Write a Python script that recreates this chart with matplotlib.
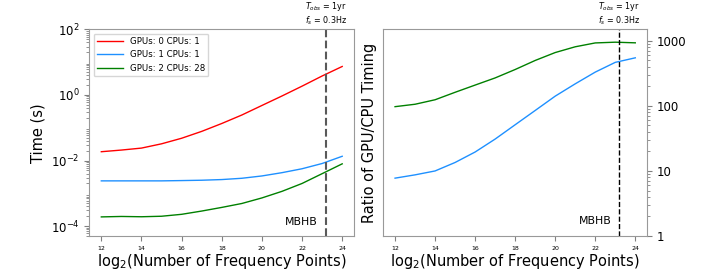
import numpy as np
import matplotlib
matplotlib.use('Agg')
import matplotlib.pyplot as plt
import matplotlib.transforms as mtransforms
from matplotlib.ticker import FixedLocator, FixedFormatter

# log2 of the number of frequency points
n_log2 = [12, 13, 14, 15, 16, 17, 18, 19, 20, 21, 22, 23, 24]

# timings in seconds
t_cpu = [0.0186, 0.0209, 0.0240, 0.0324, 0.0479, 0.0776, 0.135,
         0.245, 0.479, 0.933, 1.86, 3.80, 7.41]
t_gpu1 = [0.00240, 0.00240, 0.00240, 0.00240, 0.00245, 0.00251, 0.00263,
          0.00288, 0.00339, 0.00427, 0.00562, 0.00813, 0.0135]
t_gpu2 = [1.91e-4, 1.97e-4, 1.93e-4, 2.00e-4, 2.29e-4, 2.88e-4, 3.72e-4,
          4.90e-4, 7.24e-4, 1.15e-3, 2.00e-3, 3.98e-3, 7.94e-3]

labels = ['GPUs: 0 CPUs: 1', 'GPUs: 1 CPUs: 1', 'GPUs: 2 CPUs: 28']
colors = ['red', 'dodgerblue', 'green']

mbhb_x = np.log2(3.15576e7 * 0.3)

fig = plt.figure(figsize=(7.2, 2.7), dpi=100)
ax1 = fig.add_axes([0.124, 0.126, 0.368, 0.765])
ax2 = fig.add_axes([0.532, 0.126, 0.367, 0.765])

for ys, lab, c in zip([t_cpu, t_gpu1, t_gpu2], labels, colors):
    ax1.plot(n_log2, ys, color=c, lw=1, label=lab)
ax1.set_yscale('log')
ax1.set_ylim(5e-5, 1e2)
ax1.set_yticks([1e-4, 1e-2, 1e0, 1e2])
ax1.axvline(mbhb_x, color='0.35', ls='--', lw=1.5)
ax1.text(22.8, 1.3e-4, 'MBHB', ha='right', va='center', fontsize=7.8)
ax1.legend(loc='upper left', fontsize=6.2, handlelength=3)
ax1.set_ylabel('Time (s)', fontsize=10.5)

ratio1 = np.array(t_cpu) / np.array(t_gpu1)
ratio2 = np.array(t_cpu) / np.array(t_gpu2)
ax2.plot(n_log2, ratio1, color=colors[1], lw=1)
ax2.plot(n_log2, ratio2, color=colors[2], lw=1)
ax2.set_yscale('log')
ax2.set_ylim(1, 1500)
ax2.yaxis.tick_right()
ax2.yaxis.set_major_locator(FixedLocator([1, 10, 100, 1000]))
ax2.yaxis.set_major_formatter(FixedFormatter(['1', '10', '100', '1000']))
ax2.axvline(mbhb_x, color='k', ls='--', lw=1)
ax2.text(22.8, 1.67, 'MBHB', ha='right', va='center', fontsize=7.8)
ax2.set_ylabel('Ratio of GPU/CPU Timing', fontsize=10.5)

for ax in (ax1, ax2):
    ax.set_xticks([12, 14, 16, 18, 20, 22, 24])
    ax.tick_params(axis='x', labelsize=4.5)
    ax.tick_params(axis='y', labelsize=8.5)
    ax.tick_params(which='both', color='0.5')
    for s in ax.spines.values():
        s.set_color('0.6')
    ax.set_xlabel(r'log$_2$(Number of Frequency Points)', fontsize=10.5, labelpad=1)
    trans = mtransforms.blended_transform_factory(ax.transData, ax.transAxes)
    ax.text(mbhb_x, 1.01, '$T_{obs}$ = 1yr\n$f_s$ = 0.3Hz', transform=trans,
            ha='center', va='bottom', fontsize=5.8, linespacing=1.2)

fig.savefig('out.png', dpi=100)
